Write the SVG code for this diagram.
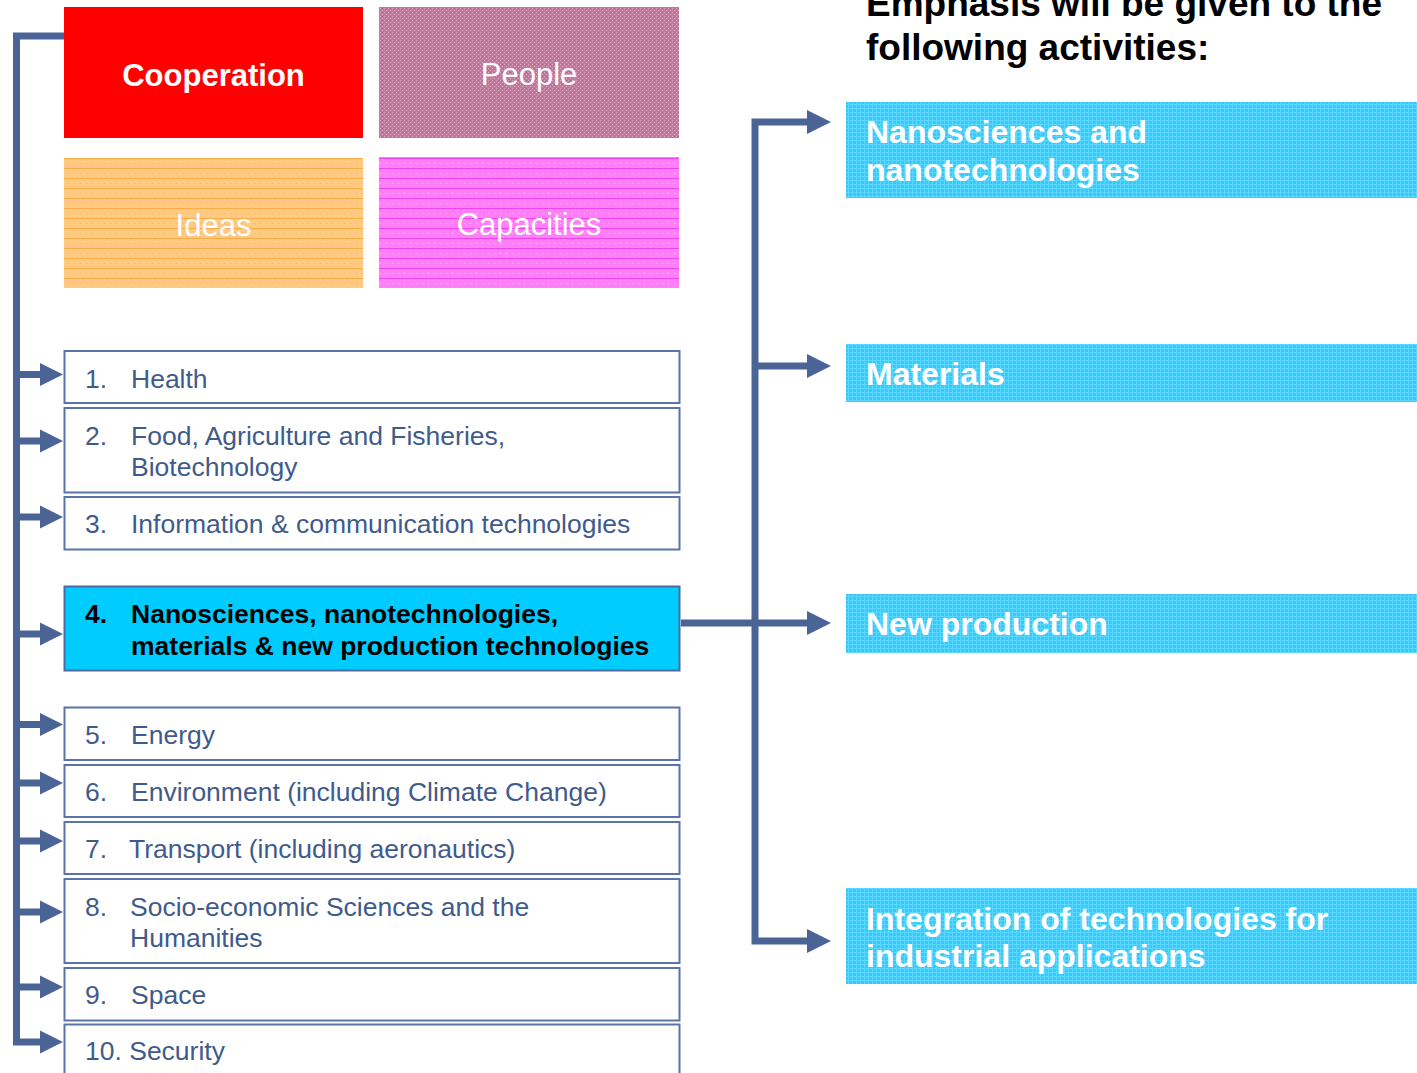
<svg xmlns="http://www.w3.org/2000/svg" width="1417" height="1073" viewBox="0 0 1417 1073">
<defs>
<pattern id="pPeople" width="4" height="4" patternUnits="userSpaceOnUse">
<rect width="4" height="4" fill="#C07A9C"/>
<rect x="0" y="0" width="1" height="1" fill="#E4A8C6"/>
<rect x="2" y="2" width="1" height="1" fill="#E4A8C6"/>
<rect x="2" y="0" width="1" height="1" fill="#A86888"/>
</pattern>
<pattern id="pIdeas" width="6" height="10" patternUnits="userSpaceOnUse">
<rect width="6" height="10" fill="#FFC982"/>
<rect x="0" y="8" width="6" height="1" fill="#F7AC45"/>
<rect x="2" y="3" width="1" height="1" fill="#F9B45A"/>
</pattern>
<pattern id="pCap" width="6" height="10" patternUnits="userSpaceOnUse">
<rect width="6" height="10" fill="#FF80F6"/>
<rect x="0" y="8" width="6" height="1" fill="#EE44EE"/>
<rect x="2" y="3" width="1" height="1" fill="#FFD0FF"/>
</pattern>
<pattern id="pCyan" width="4" height="4" patternUnits="userSpaceOnUse">
<rect width="4" height="4" fill="#34CBFA"/>
<rect x="0" y="0" width="4" height="1" fill="#5AD6FF"/>
<rect x="0" y="0" width="1" height="4" fill="#5AD6FF"/>
</pattern>
<style>
.lbox{fill:#FFFFFF;stroke:#5B74A8;stroke-width:2}
.ltxt{font-family:"Liberation Sans",Arial,sans-serif;font-size:26.5px;fill:#3F5B8C}
.btxt{font-family:"Liberation Sans",Arial,sans-serif;font-size:26.5px;font-weight:bold;fill:#000000}
.top{font-family:"Liberation Sans",Arial,sans-serif;font-size:31px;fill:#FFFFFF;text-anchor:middle}
.rtxt{font-family:"Liberation Sans",Arial,sans-serif;font-size:32px;font-weight:bold;fill:#FFFFFF}
.title{font-family:"Liberation Sans",Arial,sans-serif;font-size:37px;font-weight:bold;fill:#000000}
.wire{fill:none;stroke:#4A6496;stroke-width:7}
.head{fill:#4A6496}
</style>
</defs>
<rect width="1417" height="1073" fill="#FFFFFF"/>

<g id="connectors">
<path class="wire" d="M64 36 H16.5 V1042 H42"/>
<path class="wire" d="M16.5 374.5 H42 M16.5 441 H42 M16.5 517 H42 M16.5 634 H42 M16.5 724.5 H42 M16.5 783 H42 M16.5 841 H42 M16.5 912 H42 M16.5 987 H42"/>
<g class="head">
<polygon points="40,363 63,374.5 40,386"/>
<polygon points="40,429.5 63,441 40,452.5"/>
<polygon points="40,505.5 63,517 40,528.5"/>
<polygon points="40,622.5 63,634 40,645.5"/>
<polygon points="40,713 63,724.5 40,736"/>
<polygon points="40,771.5 63,783 40,794.5"/>
<polygon points="40,829.5 63,841 40,852.5"/>
<polygon points="40,900.5 63,912 40,923.5"/>
<polygon points="40,975.5 63,987 40,998.5"/>
<polygon points="40,1030.5 63,1042 40,1053.5"/>
</g>
<path class="wire" d="M809 122 H755 V941 H809 M755 366 H809 M681 623 H809"/>
<g class="head">
<polygon points="807,110 831,122 807,134"/>
<polygon points="807,354 831,366 807,378"/>
<polygon points="807,611 831,623 807,635"/>
<polygon points="807,929 831,941 807,953"/>
</g>
</g>

<g id="title">
<text class="title" x="866" y="16">Emphasis will be given to the</text>
<text class="title" x="866" y="60">following activities:</text>
</g>

<g id="cooperation">
<rect x="64" y="7" width="299" height="131" fill="#FF0000"/>
<text class="top" x="213.5" y="86" font-weight="bold" font-size="32">Cooperation</text>
</g>
<g id="people">
<rect x="379" y="7" width="300" height="131" fill="url(#pPeople)"/>
<text class="top" x="529" y="85">People</text>
</g>
<g id="ideas">
<rect x="64" y="158" width="299" height="130" fill="url(#pIdeas)"/>
<text class="top" x="213.5" y="236">Ideas</text>
</g>
<g id="capacities">
<rect x="379" y="157" width="300" height="131" fill="url(#pCap)"/>
<text class="top" x="529" y="235">Capacities</text>
</g>

<g id="item1">
<rect class="lbox" x="64.5" y="351" width="615" height="52"/>
<text class="ltxt" x="85" y="387.5">1.</text><text class="ltxt" x="131" y="387.5">Health</text>
</g>
<g id="item2">
<rect class="lbox" x="64.5" y="408" width="615" height="84.5"/>
<text class="ltxt" x="85" y="444.5">2.</text><text class="ltxt" x="131" y="444.5">Food, Agriculture and Fisheries,</text>
<text class="ltxt" x="131" y="476">Biotechnology</text>
</g>
<g id="item3">
<rect class="lbox" x="64.5" y="497" width="615" height="52.5"/>
<text class="ltxt" x="85" y="533">3.</text><text class="ltxt" x="131" y="533">Information &amp; communication technologies</text>
</g>
<g id="item4">
<rect x="64.5" y="586.5" width="615" height="84" fill="#00CCFF" stroke="#4A6AA0" stroke-width="2"/>
<text class="btxt" x="85" y="623">4.</text><text class="btxt" x="131" y="623">Nanosciences, nanotechnologies,</text>
<text class="btxt" x="131" y="655">materials &amp; new production technologies</text>
</g>
<g id="item5">
<rect class="lbox" x="64.5" y="707.5" width="615" height="52.5"/>
<text class="ltxt" x="85" y="744">5.</text><text class="ltxt" x="131" y="744">Energy</text>
</g>
<g id="item6">
<rect class="lbox" x="64.5" y="765" width="615" height="52"/>
<text class="ltxt" x="85" y="801">6.</text><text class="ltxt" x="131" y="801">Environment (including Climate Change)</text>
</g>
<g id="item7">
<rect class="lbox" x="64.5" y="822" width="615" height="52"/>
<text class="ltxt" x="85" y="858">7.</text><text class="ltxt" x="129" y="858">Transport (including aeronautics)</text>
</g>
<g id="item8">
<rect class="lbox" x="64.5" y="879" width="615" height="84"/>
<text class="ltxt" x="85" y="915.5">8.</text><text class="ltxt" x="130" y="915.5">Socio-economic Sciences and the</text>
<text class="ltxt" x="130" y="947">Humanities</text>
</g>
<g id="item9">
<rect class="lbox" x="64.5" y="968" width="615" height="52.5"/>
<text class="ltxt" x="85" y="1004">9.</text><text class="ltxt" x="131" y="1004">Space</text>
</g>
<g id="item10">
<rect class="lbox" x="64.5" y="1024.5" width="615" height="60"/>
<text class="ltxt" x="85" y="1060">10. Security</text>
</g>

<g id="nano">
<rect x="846" y="102" width="571" height="96" fill="url(#pCyan)"/>
<text class="rtxt" x="866" y="143">Nanosciences and</text>
<text class="rtxt" x="866" y="181">nanotechnologies</text>
</g>
<g id="materials">
<rect x="846" y="344" width="571" height="58" fill="url(#pCyan)"/>
<text class="rtxt" x="866" y="385">Materials</text>
</g>
<g id="newproduction">
<rect x="846" y="594" width="571" height="59" fill="url(#pCyan)"/>
<text class="rtxt" x="866" y="635">New production</text>
</g>
<g id="integration">
<rect x="846" y="888" width="571" height="96" fill="url(#pCyan)"/>
<text class="rtxt" x="866" y="930">Integration of technologies for</text>
<text class="rtxt" x="866" y="967">industrial applications</text>
</g>
</svg>
